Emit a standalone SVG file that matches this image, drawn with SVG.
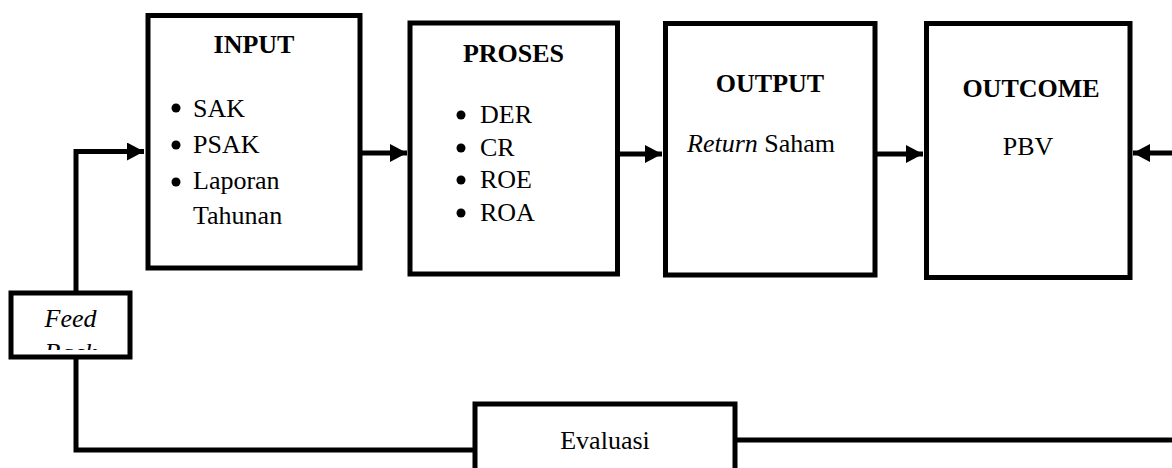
<svg xmlns="http://www.w3.org/2000/svg" width="1172" height="468" viewBox="0 0 1172 468">
  <style>
    .box { fill: #ffffff; stroke: #000000; stroke-width: 5; }
    .ln { fill: none; stroke: #000000; stroke-width: 5; }
    .t { font-family: "Liberation Serif", "Times New Roman", serif; font-size: 26px; fill: #000000; }
    .b { font-weight: bold; }
    .i { font-style: italic; }
    .c { text-anchor: middle; }
  </style>
  <defs>
    <marker id="ah" markerWidth="17" markerHeight="18" refX="17" refY="9" orient="auto" markerUnits="userSpaceOnUse">
      <path d="M0,0 L17,9 L0,18 Z" fill="#000000"/>
    </marker>
    <clipPath id="fbclip">
      <rect x="11" y="293" width="119" height="57"/>
    </clipPath>
  </defs>
  <rect width="1172" height="468" fill="#ffffff"/>

  <g id="connectors">
    <path class="ln" d="M76,293 L76,151.5 L144,151.5" marker-end="url(#ah)"/>
    <path class="ln" d="M360,153 L407,153" marker-end="url(#ah)"/>
    <path class="ln" d="M617,154 L662,154" marker-end="url(#ah)"/>
    <path class="ln" d="M875,154 L923,154" marker-end="url(#ah)"/>
    <path class="ln" d="M1172,153 L1133,153" marker-end="url(#ah)"/>
    <path class="ln" d="M76,357 L76,450 L475,450"/>
    <path class="ln" d="M735,440 L1172,440"/>
  </g>

  <g id="input">
    <rect class="box" x="148" y="15.5" width="212" height="252.5"/>
    <text class="t b c" x="254" y="53">INPUT</text>
    <circle cx="176" cy="108" r="4.5"/>
    <circle cx="176" cy="145" r="4.5"/>
    <circle cx="176" cy="182" r="4.5"/>
    <text class="t" x="193" y="117">SAK</text>
    <text class="t" x="193" y="153">PSAK</text>
    <text class="t" x="193" y="189">Laporan</text>
    <text class="t" x="193" y="224">Tahunan</text>
  </g>

  <g id="proses">
    <rect class="box" x="410" y="23" width="207.5" height="251"/>
    <text class="t b c" x="513.5" y="62">PROSES</text>
    <circle cx="461" cy="115" r="4.5"/>
    <circle cx="461" cy="148" r="4.5"/>
    <circle cx="461" cy="180" r="4.5"/>
    <circle cx="461" cy="213" r="4.5"/>
    <text class="t" x="480" y="123">DER</text>
    <text class="t" x="480" y="156">CR</text>
    <text class="t" x="480" y="188">ROE</text>
    <text class="t" x="480" y="221">ROA</text>
  </g>

  <g id="output">
    <rect class="box" x="665.5" y="23.5" width="209.5" height="251.5"/>
    <text class="t b c" x="770" y="92">OUTPUT</text>
    <text class="t" x="687" y="152"><tspan class="i">Return</tspan> Saham</text>
  </g>

  <g id="outcome">
    <rect class="box" x="926.5" y="23.5" width="203.5" height="254"/>
    <text class="t b c" x="1031" y="97">OUTCOME</text>
    <text class="t c" x="1028" y="155">PBV</text>
  </g>

  <g id="feedback">
    <rect class="box" x="11" y="293" width="119" height="64"/>
    <g clip-path="url(#fbclip)">
      <text class="t i c" x="70.5" y="327">Feed</text>
      <text class="t i c" x="70.5" y="361">Back</text>
    </g>
  </g>

  <g id="evaluasi">
    <rect class="box" x="475" y="404" width="260" height="80"/>
    <text class="t c" x="605" y="449">Evaluasi</text>
  </g>
</svg>
